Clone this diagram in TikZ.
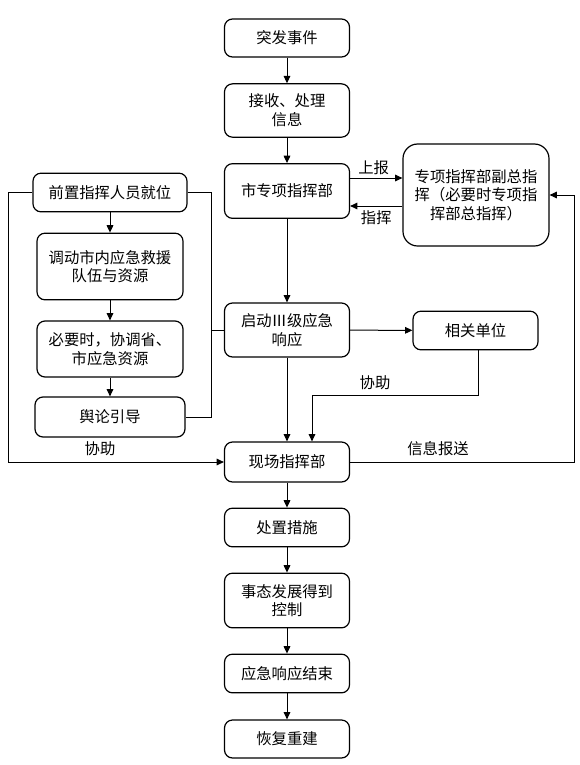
\documentclass[tikz,border=0pt]{standalone}
\usepackage{fontspec}
\setmainfont{Noto Sans CJK SC}
\usetikzlibrary{positioning,calc,arrows.meta}
\tikzset{
  step box/.style = {draw,rounded corners=6pt,line width=0.9pt,align=center,
                     minimum width=93.75pt,inner sep=1pt,font=\fontsize{11.5}{14}\selectfont},
  big box/.style  = {step box,rounded corners=11pt},
  lbl/.style      = {inner sep=1pt,font=\fontsize{11.5}{14}\selectfont},
  link/.style     = {line width=0.75pt},
  >={Triangle[length=5.5pt,width=5pt]}
}
\begin{document}
\begin{tikzpicture}[x=0.75pt,y=-0.75pt]
  \useasboundingbox (0,0) rectangle (580,765);

  % main column
  \node[step box,minimum height=28.5pt] (tf) at (287,38)    {突发事件};
  \node[step box,minimum height=40pt]   (js) at (287,110.5) {接收、处理\\信息};
  \node[step box,minimum height=41pt]   (zx) at (287,191)   {市专项指挥部};
  \node[step box,minimum height=40.5pt] (qd) at (287,330)   {启动Ⅲ级应急\\响应};
  \node[step box,minimum height=30pt]   (xc) at (287,462)   {现场指挥部};
  \node[step box,minimum height=29pt]   (cz) at (287,527.5) {处置措施};
  \node[step box,minimum height=41pt]   (st) at (287,600.5) {事态发展得到\\控制};
  \node[step box,minimum height=29pt]   (jx) at (287,673.5) {应急响应结束};
  \node[step box,minimum height=28.5pt] (hf) at (287,739)   {恢复重建};

  % right side
  \node[big box,minimum width=109.5pt,minimum height=76.5pt] (fz) at (476,195)
       {专项指挥部副总指\\挥（必要时专项指\\挥部总指挥）};
  \node[step box,minimum height=29pt] (xg) at (475.5,330.5) {相关单位};

  % left column
  \node[step box,minimum width=115.5pt,minimum height=29pt] (qz) at (110,192.5) {前置指挥人员就位};
  \node[step box,minimum width=109.5pt,minimum height=50pt] (dd) at (110,266.5) {调动市内应急救援\\队伍与资源};
  \node[step box,minimum width=109.5pt,minimum height=42pt] (bx) at (110,349)   {必要时，协调省、\\市应急资源};
  \node[step box,minimum width=112.5pt,minimum height=30pt] (yl) at (110,417)   {舆论引导};

  % main flow
  \draw[link,->] (tf) -- (js);
  \draw[link,->] (js) -- (zx);
  \draw[link,->] (zx) -- (qd);
  \draw[link,->] (qd) -- (xc);
  \draw[link,->] (xc) -- (cz);
  \draw[link,->] (cz) -- (st);
  \draw[link,->] (st) -- (jx);
  \draw[link,->] (jx) -- (hf);

  % report and command
  \draw[link,->] ([yshift=9.75pt]zx.east) -- ([yshift=9.75pt]zx.east -| fz.west)
       node[lbl,midway,above=1pt,xshift=-2pt] (sb) {上报};
  \draw[link,->] ([yshift=-11.25pt]zx.east -| fz.west) -- ([yshift=-11.25pt]zx.east)
       node[lbl,midway,below=2pt] (zh) {指挥};

  % left loop
  \draw[link,->] (qz) -- (dd);
  \draw[link,->] (dd) -- (bx);
  \draw[link,->] (bx) -- (yl);
  \draw[link,->] (qz.west) -- ++(-24,0) |- (xc.west);
  \node[lbl] (xz1) at (100,449) {协助};
  \draw[link] (qz.east) -- ++(24,0) |- (yl.east);
  \draw[link] (qd.west) -- ++(-13,0);

  % related units
  \draw[link,->] (qd) -- (xg);
  \draw[link,->] ([xshift=2.6pt]xg.south) -- ++(0,45) -| ([xshift=18.75pt]xc.north);
  \node[lbl] (xz2) at (375,383) {协助};

  % information feedback
  \draw[link,->] (xc.east) -- ++(224,0) |- (fz.east);
  \node[lbl] (bs) at (438,449) {信息报送};
\end{tikzpicture}
\end{document}
